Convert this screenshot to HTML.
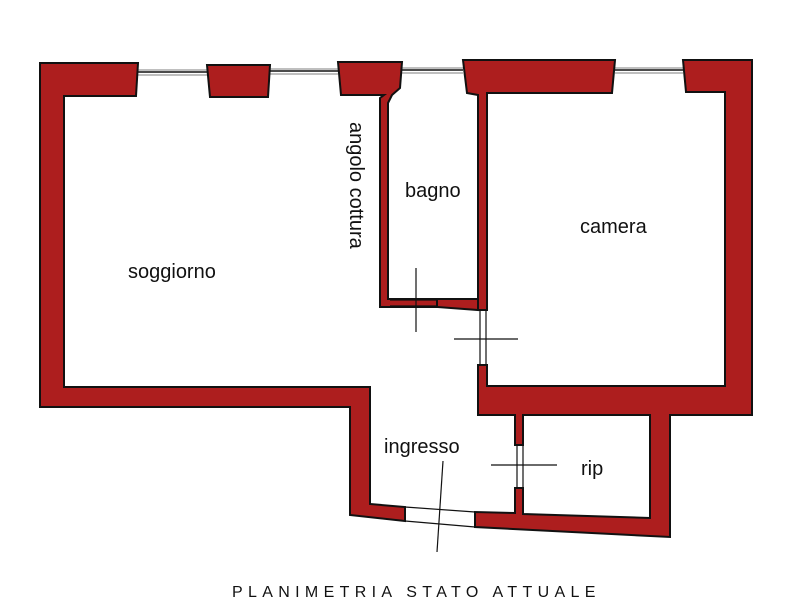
<!DOCTYPE html>
<html><head><meta charset="utf-8"><style>
html,body{margin:0;padding:0;background:#fff}
svg{display:block}
text{font-family:"Liberation Sans",sans-serif;fill:#111}
</style></head><body>
<svg width="800" height="600" viewBox="0 0 800 600" xmlns="http://www.w3.org/2000/svg">
<g stroke="#999" stroke-width="1.2" fill="none">
<line x1="138" y1="70" x2="207" y2="70"/><line x1="138" y1="75" x2="207" y2="75"/>
<line x1="270" y1="69" x2="338" y2="69"/><line x1="270" y1="74" x2="338" y2="74"/>
<line x1="402" y1="68" x2="463" y2="68"/><line x1="402" y1="73" x2="463" y2="73"/>
<line x1="615" y1="68" x2="683" y2="68"/><line x1="615" y1="73" x2="683" y2="73"/>
</g>
<g stroke="#111" stroke-width="1.5" fill="none">
<line x1="138" y1="72" x2="207" y2="72"/><line x1="270" y1="71" x2="338" y2="71"/>
<line x1="402" y1="70" x2="463" y2="70"/><line x1="615" y1="70" x2="683" y2="70"/>
</g>
<g fill="#ad1e1e" stroke="#111" stroke-width="2" stroke-linejoin="miter">
<polygon points="40,63 138,63 136,96 64,96 64,387 370,387 370,504 405,507 405,521 350,515 350,407 40,407"/>
<polygon points="207,65 270,65 268,97 210,97"/>
<polygon points="338,62 402,62 400,88 392,95 388,103 388,299 437,299 437,307 380,307 380,98 384,95 341,95"/>
<polygon points="463,60 615,60 612,93 487,93 487,310 478,310 478,95 467,93"/>
<polygon points="437,299 478,299 478,310 437,307"/>
<polygon points="683,60 752,60 752,415 670,415 670,537 475,527 475,512 515,513 515,488 523,488 523,514 650,518 650,415 523,415 523,445 515,445 515,415 478,415 478,365 487,365 487,386 725,386 725,92 686,92"/>
</g>
<g stroke="#111" stroke-width="1.2" fill="none">
<line x1="390" y1="300" x2="437" y2="300"/><line x1="390" y1="306" x2="437" y2="306"/>
<line x1="416" y1="268" x2="416" y2="332"/>
<line x1="480" y1="310" x2="480" y2="365"/><line x1="486" y1="310" x2="486" y2="365"/>
<line x1="454" y1="339" x2="518" y2="339"/>
<line x1="517" y1="445" x2="517" y2="488"/><line x1="523" y1="445" x2="523" y2="488"/>
<line x1="491" y1="465" x2="557" y2="465"/>
<line x1="405" y1="507" x2="475" y2="512"/><line x1="405" y1="521" x2="475" y2="527"/>
<line x1="443" y1="461" x2="437" y2="552"/>
</g>
<text x="128" y="278" font-size="20">soggiorno</text>
<text x="405" y="197" font-size="20">bagno</text>
<text x="580" y="233" font-size="20">camera</text>
<text x="384" y="453" font-size="20">ingresso</text>
<text x="581" y="475" font-size="20">rip</text>
<text x="350" y="122" font-size="20" transform="rotate(90 350 122)">angolo cottura</text>
<text x="232" y="597" font-size="16" letter-spacing="2.6" textLength="366">PLANIMETRIA STATO ATTUALE</text>
</svg>
</body></html>
